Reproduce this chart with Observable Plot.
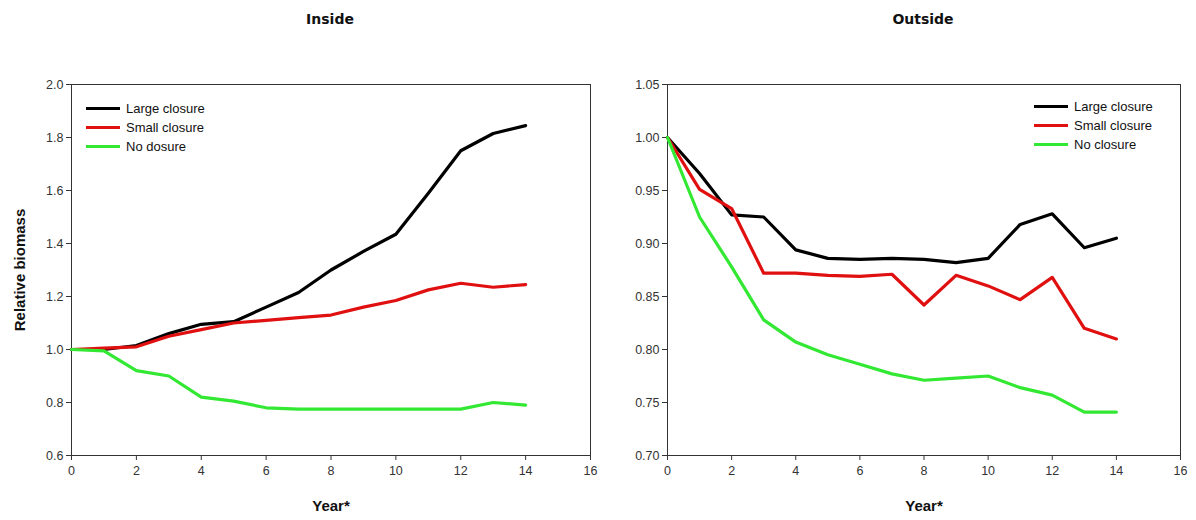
<!DOCTYPE html>
<html>
<head>
<meta charset="utf-8">
<script src="https://cdn.jsdelivr.net/npm/d3@7"></script>
<script src="https://cdn.jsdelivr.net/npm/@observablehq/plot@0.6"></script>
<style>
  html, body { margin: 0; padding: 0; background: #fff; }
  body { width: 1196px; height: 520px; position: relative; overflow: hidden; font-family: "Liberation Sans", Arial, sans-serif; }
  .panel { position: absolute; top: 40px; }
  .title { position: absolute; top: 11px; font-family: "DejaVu Sans", Verdana, sans-serif; font-weight: bold; font-size: 14px; color: #111; transform: translateX(-50%); }
  .legend { position: absolute; font-size: 13px; color: #111; }
  .legend .row { display: flex; align-items: center; height: 19px; }
  .legend .sw { width: 34px; height: 3px; margin-right: 6px; }
</style>
</head>
<body>
<div class="title" style="left:330px">Inside</div>
<div class="title" style="left:923px">Outside</div>
<div class="panel" id="left" style="left:0px"></div>
<div class="panel" id="right" style="left:598px"></div>
<div class="legend" id="legL" style="left:86px; top:99px"></div>
<div class="legend" id="legR" style="left:1034px; top:97px"></div>
<script>
const years = [0,1,2,3,4,5,6,7,8,9,10,11,12,13,14];
const seriesNames = ["Large closure", "Small closure", "No closure"];
const legendNamesInside = ["Large closure", "Small closure", "No dosure"];
const seriesColors = ["#000000", "#e01010", "#33e833"];

const insideLarge = [1.0, 1.0, 1.015, 1.06, 1.095, 1.105, 1.16, 1.215, 1.30, 1.37, 1.435, 1.59, 1.75, 1.815, 1.845];
const insideSmall = [1.0, 1.005, 1.01, 1.05, 1.075, 1.10, 1.11, 1.12, 1.13, 1.16, 1.185, 1.225, 1.25, 1.235, 1.245];
const insideNone  = [1.0, 0.995, 0.92, 0.90, 0.82, 0.805, 0.78, 0.775, 0.775, 0.775, 0.775, 0.775, 0.775, 0.80, 0.79];

const outsideLarge = [1.0, 0.966, 0.927, 0.925, 0.894, 0.886, 0.885, 0.886, 0.885, 0.882, 0.886, 0.918, 0.928, 0.896, 0.905];
const outsideSmall = [1.0, 0.951, 0.933, 0.872, 0.872, 0.870, 0.869, 0.871, 0.842, 0.870, 0.860, 0.847, 0.868, 0.820, 0.810];
const outsideNone  = [1.0, 0.925, 0.878, 0.828, 0.807, 0.795, 0.786, 0.777, 0.771, 0.773, 0.775, 0.764, 0.757, 0.741, 0.741];

const xTicks = [0,2,4,6,8,10,12,14,16];
const yTicksInside = [0.6,0.8,1.0,1.2,1.4,1.6,1.8,2.0];
const yTicksOutside = [0.70,0.75,0.80,0.85,0.90,0.95,1.00,1.05];

function tidy(arrs) {
  const out = [];
  arrs.forEach((arr, i) => arr.forEach((v, j) => out.push({year: years[j], value: v, series: seriesNames[i]})));
  return out;
}

function panel({data, yDomain, yTicks, yFmt, width, marginLeft, marginRight, yLabel}) {
  return Plot.plot({
    width, height: 480,
    marginLeft, marginRight, marginTop: 44, marginBottom: 65,
    style: {fontFamily: "'Liberation Sans', Arial, sans-serif", fontSize: "12px", color: "#333", overflow: "visible"},
    x: {domain: [0, 16]},
    y: {domain: yDomain},
    color: {domain: seriesNames, range: seriesColors},
    marks: [
      Plot.frame({stroke: "#333", strokeWidth: 1}),
      Plot.axisX({ticks: xTicks, tickSize: 5, tickPadding: 6, label: "Year*", labelAnchor: "center", labelArrow: "none", labelOffset: 55, fontSize: 12.5}),
      Plot.axisY({ticks: yTicks, tickFormat: yFmt, tickSize: 5, tickPadding: 3, label: yLabel, labelAnchor: "center", labelArrow: "none", labelOffset: 57, fontSize: 12.5}),
      Plot.line(data, {x: "year", y: "value", z: "series", stroke: "series", strokeWidth: 3.2, curve: "linear"})
    ]
  });
}

const left = panel({data: tidy([insideLarge, insideSmall, insideNone]), yDomain: [0.6, 2.0], yTicks: yTicksInside, yFmt: d3.format(".1f"), width: 598, marginLeft: 71, marginRight: 8, yLabel: "Relative biomass"});
const right = panel({data: tidy([outsideLarge, outsideSmall, outsideNone]), yDomain: [0.70, 1.05], yTicks: yTicksOutside, yFmt: d3.format(".2f"), width: 598, marginLeft: 69, marginRight: 16, yLabel: null});
document.getElementById("left").appendChild(left);
document.getElementById("right").appendChild(right);

// style axis labels bold & larger
for (const svg of [left, right]) {
  svg.querySelectorAll('g[aria-label="x-axis label"] text, g[aria-label="y-axis label"] text').forEach(t => {
    t.setAttribute("font-weight", "bold");
    t.setAttribute("font-size", "15px");
    t.setAttribute("fill", "#111");
    t.style.fontSize = "15px";
  });
}

function legend(el, names) {
  names.forEach((n, i) => {
    const row = document.createElement("div");
    row.className = "row";
    const sw = document.createElement("div");
    sw.className = "sw";
    sw.style.background = seriesColors[i];
    const tx = document.createElement("span");
    tx.textContent = n;
    row.appendChild(sw); row.appendChild(tx);
    el.appendChild(row);
  });
}
legend(document.getElementById("legL"), legendNamesInside);
legend(document.getElementById("legR"), seriesNames);
</script>
</body>
</html>
